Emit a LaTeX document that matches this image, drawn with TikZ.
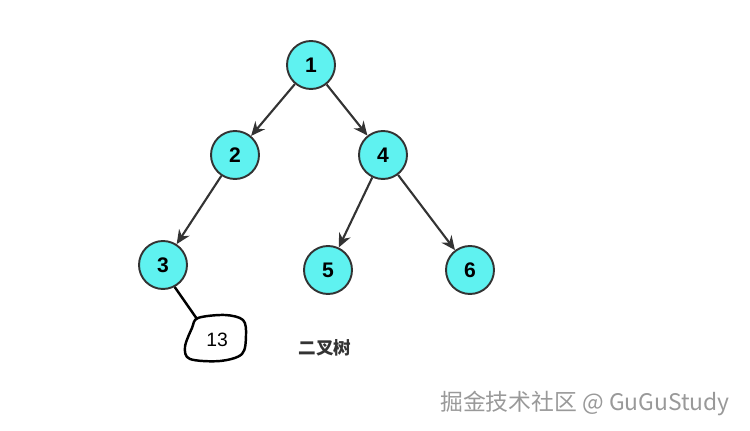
\documentclass[tikz,border=0pt]{standalone}
\usepackage{fontspec}
\setmainfont{Liberation Sans}
\newfontfamily\cjk{Noto Sans CJK SC}
\usepackage{tikz}
\usetikzlibrary{arrows.meta,positioning,calc}
\definecolor{nodecyan}{HTML}{5FF2F0}
\definecolor{edgegray}{HTML}{333333}
\tikzset{
	treenode/.style={circle, draw=edgegray, line width=1.1pt, fill=nodecyan,
		minimum size=0.96cm, inner sep=0pt, font=\bfseries\fontsize{12}{14}\selectfont},
	treearr/.style={-{Stealth[length=2.8mm,width=2.5mm]}, line width=1.2pt, draw=edgegray}
}

\begin{document}
\begin{tikzpicture}[x=0.02cm, y=-0.02cm]
			\useasboundingbox (0,0) rectangle (750,431);
			\node[treenode] (n1) at (311,65) {1};
			\node[treenode] (n2) at (235,155) {2};
			\node[treenode] (n4) at (383,155) {4};
			\node[treenode] (n3) at (163,265) {3};
			\node[treenode] (n5) at (328,270) {5};
			\node[treenode] (n6) at (470,270) {6};
			\draw[treearr] (n1)--(n2);
			\draw[treearr] (n1)--(n4);
			\draw[treearr] (n2)--(n3);
			\draw[treearr] (n4)--(n5);
			\draw[treearr] (n4)--(n6);
			% hand-drawn note on node 3
			\node[font=\fontsize{11}{13}\selectfont] (n13) at (217,340) {13};
			\begin{scope}[shift={(n13)}]
				\draw[line width=1.4pt] plot[smooth cycle, tension=0.55] coordinates
					{(-19,-22) (8,-25) (26,-20) (29,-5) (25,14) (3,21) (-27,19) (-32,7) (-25,-12)};
				\coordinate (b13) at (-20,-21);
			\end{scope}
			\draw[line width=1.4pt] (n3.-62) -- (b13);
			\node[font=\cjk\bfseries\fontsize{10}{12}\selectfont, text=black!80] (title) at (325,348) {二叉树};
			\node[font=\cjk\fontsize{13}{15}\selectfont, text=black!40, anchor=east] (mark) at (736,403) {掘金技术社区 @ GuGuStudy};
		\end{tikzpicture}
\end{document}
